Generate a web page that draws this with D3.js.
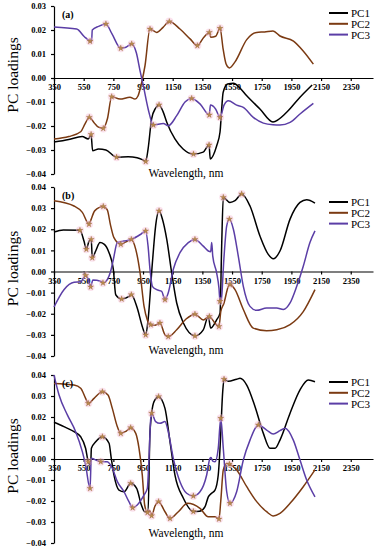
<!DOCTYPE html>
<html>
<head>
<meta charset="utf-8">
<script src="https://cdn.jsdelivr.net/npm/d3@7"></script>
<style>
  body { margin: 0; background: #fff; }
  svg { display: block; }
</style>
</head>
<body>
<svg id="chart" width="377" height="550"></svg>
<script>
// x ticks and series names
const xTicks = [350, 550, 750, 950, 1150, 1350, 1550, 1750, 1950, 2150, 2350];
const seriesNames = ['PC1', 'PC2', 'PC3'];
const seriesColors = ['#000000', '#7b3a12', '#5b3ea6'];

// panel (a): [wavelength, loading]
const aPC1 = [[350,-0.0267],[450,-0.0256],[540,-0.0244],[581,-0.0254],[600,-0.0235],[610,-0.0303],[650,-0.0296],[700,-0.0300],[772,-0.0330],[850,-0.0328],[910,-0.0332],[945,-0.0340],[968,-0.0348],[984,-0.0296],[1008,-0.0170],[1035,-0.0125],[1058,-0.0112],[1085,-0.0140],[1110,-0.0184],[1165,-0.0254],[1220,-0.0296],[1290,-0.0317],[1355,-0.0309],[1395,-0.0279],[1403,-0.0337],[1446,-0.0283],[1469,-0.0225],[1480,-0.0130],[1490,-0.0060],[1520,-0.0025],[1560,-0.0022],[1600,-0.0040],[1649,-0.0074],[1738,-0.0129],[1826,-0.0183],[1918,-0.0143],[2008,-0.0080],[2090,-0.0029]];
const aPC2 = [[350,-0.0254],[450,-0.0244],[530,-0.0224],[560,-0.0190],[588,-0.0164],[620,-0.0186],[650,-0.0205],[682,-0.0210],[710,-0.0170],[739,-0.0078],[795,-0.0088],[862,-0.0080],[896,-0.0088],[916,-0.0075],[941,-0.0018],[963,0.0050],[997,0.0204],[1042,0.0190],[1085,0.0211],[1127,0.0235],[1199,0.0204],[1267,0.0163],[1316,0.0135],[1360,0.0170],[1397,0.0190],[1406,0.0170],[1440,0.0174],[1469,0.0207],[1490,0.0120],[1510,0.0058],[1532,0.0042],[1570,0.0067],[1649,0.0160],[1716,0.0190],[1770,0.0192],[1826,0.0196],[1873,0.0175],[1964,0.0154],[2028,0.0114],[2098,0.0058]];
const aPC3 = [[350,0.0213],[503,0.0204],[555,0.0172],[593,0.0153],[603,0.0150],[608,0.0200],[650,0.0215],[700,0.0225],[740,0.0185],[800,0.0124],[835,0.0128],[874,0.0142],[905,0.0105],[930,0.0030],[952,-0.0032],[985,-0.0130],[1020,-0.0196],[1087,-0.0190],[1120,-0.0199],[1177,-0.0157],[1233,-0.0100],[1278,-0.0085],[1334,-0.0108],[1397,-0.0154],[1404,-0.0113],[1440,-0.0130],[1469,-0.0164],[1496,-0.0113],[1525,-0.0095],[1581,-0.0113],[1626,-0.0122],[1693,-0.0164],[1761,-0.0188],[1826,-0.0195],[1873,-0.0196],[1941,-0.0185],[2008,-0.0150],[2098,-0.0106]];
const aMarks = [[600, 772, 968, 1058, 1290, 1395], [588, 682, 739, 997, 1127, 1316, 1397, 1469], [593, 700, 800, 874, 1020, 1278, 1397, 1469]];

// panel (b)
const bPC1 = [[350,0.0187],[413,0.0197],[525,0.0195],[552,0.0144],[568,0.0105],[586,0.0144],[601,0.0152],[608,0.0065],[631,0.0097],[660,0.0137],[687,0.0130],[721,0.0089],[750,0.0010],[766,-0.0110],[806,-0.0130],[856,-0.0118],[871,-0.0110],[911,-0.0173],[945,-0.0260],[968,-0.0300],[984,-0.0229],[1013,0.0040],[1035,0.0216],[1058,0.0287],[1080,0.0250],[1110,0.0152],[1143,-0.0006],[1177,-0.0149],[1222,-0.0244],[1300,-0.0305],[1356,-0.0276],[1390,-0.0213],[1406,-0.0268],[1446,-0.0229],[1469,-0.0197],[1480,0.0120],[1491,0.0351],[1536,0.0327],[1570,0.0335],[1615,0.0367],[1671,0.0310],[1738,0.0168],[1794,0.0081],[1828,0.0060],[1873,0.0097],[1941,0.0248],[2008,0.0327],[2053,0.0340],[2109,0.0324]];
const bPC2 = [[350,0.0335],[485,0.0310],[541,0.0280],[586,0.0224],[601,0.0248],[624,0.0287],[682,0.0308],[709,0.0292],[732,0.0216],[754,0.0160],[800,0.0129],[835,0.0140],[871,0.0152],[901,0.0105],[930,-0.0006],[957,-0.0165],[979,-0.0229],[1002,-0.0252],[1030,-0.0255],[1064,-0.0244],[1098,-0.0300],[1120,-0.0308],[1177,-0.0276],[1240,-0.0225],[1300,-0.0202],[1356,-0.0229],[1397,-0.0213],[1430,-0.0240],[1462,-0.0260],[1474,-0.0190],[1496,-0.0149],[1525,-0.0070],[1536,-0.0062],[1570,-0.0086],[1626,-0.0180],[1693,-0.0268],[1783,-0.0280],[1851,-0.0276],[1941,-0.0252],[2030,-0.0190],[2109,-0.0086]];
const bPC3 = [[350,-0.0168],[417,-0.0086],[485,-0.0051],[530,-0.0049],[563,-0.0019],[580,-0.0035],[597,-0.0073],[612,-0.0040],[665,-0.0046],[680,-0.0054],[709,-0.0038],[732,0.0001],[750,0.0057],[777,0.0137],[822,0.0144],[871,0.0152],[934,0.0176],[968,0.0192],[984,0.0120],[997,0.0010],[1013,-0.0070],[1042,-0.0086],[1076,-0.0094],[1098,-0.0133],[1120,-0.0101],[1154,0.0010],[1199,0.0089],[1255,0.0137],[1300,0.0152],[1356,0.0120],[1390,0.0097],[1406,0.0094],[1413,0.0137],[1420,0.0073],[1446,-0.0006],[1462,-0.0080],[1469,-0.0141],[1478,-0.0130],[1495,0.0060],[1514,0.0216],[1532,0.0248],[1559,0.0200],[1592,0.0073],[1626,-0.0070],[1671,-0.0165],[1716,-0.0184],[1783,-0.0173],[1851,-0.0173],[1896,-0.0180],[1941,-0.0149],[1986,-0.0070],[2030,0.0025],[2075,0.0137],[2109,0.0192]];
const bMarks = [[525, 568, 601, 608, 806, 871, 968, 1058, 1300, 1491, 1615], [586, 682, 800, 871, 1002, 1064, 1120, 1300, 1397, 1462, 1536], [563, 597, 680, 968, 1098, 1300, 1469, 1532]];

// panel (c)
const cPC1 = [[350,0.0175],[417,0.0154],[485,0.0130],[530,0.0106],[563,0.0051],[581,-0.0013],[597,-0.0029],[602,0.0051],[631,0.0082],[676,0.0106],[721,0.0075],[736,0.0003],[754,-0.0076],[788,-0.0148],[822,-0.0156],[867,-0.0116],[907,-0.0140],[939,-0.0219],[961,-0.0251],[984,-0.0251],[997,0.0130],[1024,0.0273],[1055,0.0297],[1098,0.0241],[1132,0.0082],[1165,-0.0076],[1222,-0.0187],[1289,-0.0250],[1330,-0.0249],[1368,-0.0227],[1390,-0.0180],[1412,-0.0163],[1435,-0.0148],[1457,-0.0076],[1469,0.0051],[1487,0.0320],[1496,0.0380],[1525,0.0370],[1581,0.0380],[1604,0.0384],[1649,0.0352],[1705,0.0249],[1761,0.0122],[1806,0.0051],[1840,0.0051],[1873,0.0090],[1941,0.0218],[2008,0.0329],[2064,0.0376],[2109,0.0368]];
const cPC2 = [[350,0.0360],[485,0.0352],[530,0.0337],[563,0.0289],[581,0.0265],[620,0.0289],[676,0.0320],[714,0.0305],[743,0.0241],[777,0.0154],[800,0.0122],[835,0.0132],[867,0.0149],[901,0.0122],[923,0.0051],[945,-0.0076],[961,-0.0219],[980,-0.0255],[995,-0.0245],[1008,-0.0270],[1030,-0.0225],[1055,-0.0203],[1098,-0.0251],[1132,-0.0283],[1188,-0.0251],[1250,-0.0211],[1334,-0.0235],[1390,-0.0275],[1435,-0.0275],[1462,-0.0286],[1474,-0.0200],[1491,-0.0052],[1514,-0.0021],[1532,-0.0024],[1581,-0.0052],[1649,-0.0132],[1716,-0.0203],[1783,-0.0251],[1828,-0.0271],[1873,-0.0259],[1941,-0.0211],[2030,-0.0132],[2109,-0.0052]];
const cPC3 = [[350,0.0400],[384,0.0305],[440,0.0210],[496,0.0130],[541,0.0035],[563,-0.0029],[593,-0.0140],[601,0.0003],[665,-0.0013],[709,-0.0013],[743,-0.0044],[777,-0.0108],[822,-0.0156],[855,-0.0203],[880,-0.0232],[911,-0.0219],[957,-0.0171],[979,-0.0140],[990,0.0000],[1002,0.0194],[1008,0.0218],[1035,0.0178],[1064,0.0170],[1098,0.0178],[1120,0.0130],[1154,0.0003],[1199,-0.0108],[1244,-0.0163],[1289,-0.0176],[1334,-0.0156],[1379,-0.0076],[1401,0.0003],[1408,0.0007],[1420,-0.0010],[1435,-0.0013],[1457,0.0051],[1474,0.0194],[1491,0.0050],[1514,-0.0156],[1536,-0.0211],[1581,-0.0156],[1626,-0.0005],[1671,0.0090],[1727,0.0162],[1783,0.0138],[1828,0.0119],[1873,0.0135],[1907,0.0146],[1963,0.0090],[2008,-0.0005],[2053,-0.0100],[2109,-0.0180]];
const cMarks = [[581, 676, 867, 1055, 1289, 1496], [581, 676, 800, 867, 980, 1008, 1055, 1132, 1462, 1532], [593, 665, 880, 1008, 1289, 1474, 1536, 1727]];

const panels = [
  { label: '(a)', top: 6, bottom: 174, yMin: -0.04, yMax: 0.03, series: [aPC1, aPC2, aPC3], marks: aMarks, titleY: 177, legendY: 13 },
  { label: '(b)', top: 187, bottom: 356, yMin: -0.04, yMax: 0.04, series: [bPC1, bPC2, bPC3], marks: bMarks, titleY: 354, legendY: 202 },
  { label: '(c)', top: 375, bottom: 543, yMin: -0.04, yMax: 0.04, series: [cPC1, cPC2, cPC3], marks: cMarks, titleY: 537, legendY: 382 }
];

const svg = d3.select('#chart');
const font = '"Liberation Serif", "Times New Roman", serif';
const x = d3.scaleLinear().domain([350, 2500]).range([54, 373]);
const star = d3.symbol().type(d3.symbolStar).size(11);

panels.forEach(p => {
  const y = d3.scaleLinear().domain([p.yMin, p.yMax]).range([p.bottom, p.top]);
  const yTicks = d3.range(Math.round(p.yMin * 100), Math.round(p.yMax * 100) + 1).map(d => d / 100);
  const g = svg.append('g');

  // axes
  const yAxis = g.append('g')
    .attr('transform', 'translate(54,0)')
    .call(d3.axisLeft(y).tickValues(yTicks).tickSize(3).tickSizeOuter(0).tickPadding(5).tickFormat(d3.format('.2f')));
  const xAxis = g.append('g')
    .attr('transform', `translate(0,${y(0)})`)
    .call(d3.axisBottom(x).tickValues(xTicks).tickSize(3).tickSizeOuter(0).tickPadding(3).tickFormat(d3.format('d')));
  [xAxis, yAxis].forEach(a => {
    a.selectAll('path, line').attr('stroke', '#000').attr('stroke-width', 1.2);
    a.selectAll('text').attr('font-family', font).attr('font-weight', 'bold').attr('font-size', 8.5).attr('fill', '#000');
  });

  // series lines
  const line = d3.line().x(d => x(d[0])).y(d => y(d[1])).curve(d3.curveMonotoneX);
  p.series.forEach((s, i) => {
    g.append('path').datum(s)
      .attr('d', line)
      .attr('fill', 'none')
      .attr('stroke', seriesColors[i])
      .attr('stroke-width', 1.5);
  });

  // markers with pink halo
  p.series.forEach((s, i) => {
    const pts = s.filter(d => p.marks[i].includes(d[0]));
    g.selectAll(null).data(pts).enter().append('circle')
      .attr('cx', d => x(d[0])).attr('cy', d => y(d[1]))
      .attr('r', 4).attr('fill', '#f6bfd6').attr('opacity', 0.45);
    g.selectAll(null).data(pts).enter().append('path')
      .attr('d', star)
      .attr('transform', d => `translate(${x(d[0])},${y(d[1])})`)
      .attr('fill', '#b88a4e').attr('stroke', '#8a5a2a').attr('stroke-width', 0.3);
  });

  // panel label
  g.append('text')
    .attr('x', 62).attr('y', p.top + 12)
    .attr('font-family', font).attr('font-weight', 'bold').attr('font-size', 10)
    .text(p.label);

  // axis titles
  g.append('text')
    .attr('transform', `translate(18,${y(0) - 3}) rotate(-90)`)
    .attr('text-anchor', 'middle')
    .attr('font-family', font).attr('font-size', 15.5)
    .text('PC loadings');
  g.append('text')
    .attr('x', 186).attr('y', p.titleY)
    .attr('text-anchor', 'middle')
    .attr('font-family', font).attr('font-size', 11.5)
    .text('Wavelength, nm');

  // legend
  seriesNames.forEach((n, i) => {
    const ly = p.legendY + i * 10.8;
    g.append('line')
      .attr('x1', 329).attr('x2', 348).attr('y1', ly).attr('y2', ly)
      .attr('stroke', seriesColors[i]).attr('stroke-width', 2);
    g.append('text')
      .attr('x', 351).attr('y', ly + 4)
      .attr('font-family', font).attr('font-size', 11)
      .text(n);
  });
});
</script>
</body>
</html>
